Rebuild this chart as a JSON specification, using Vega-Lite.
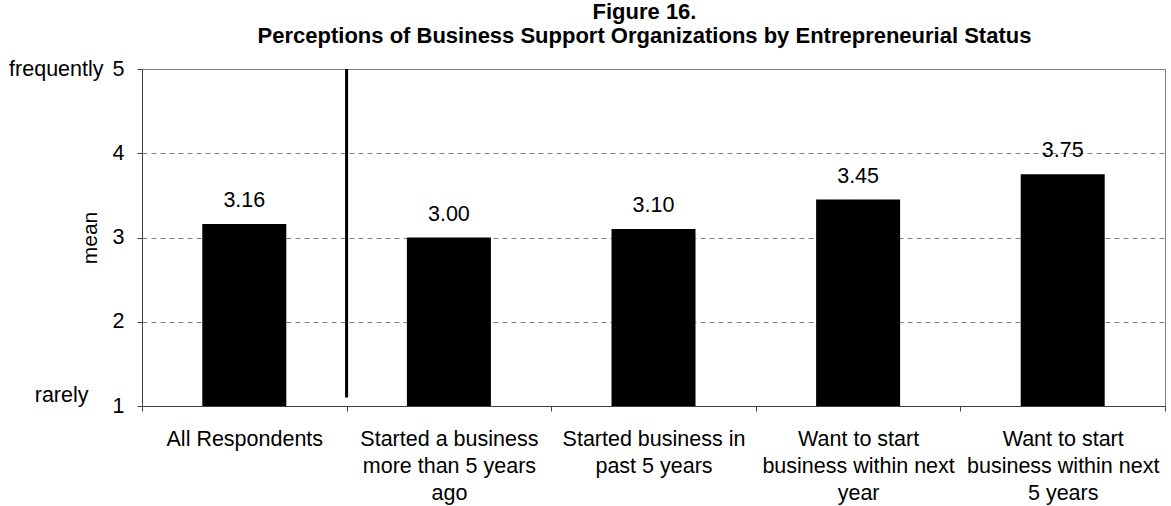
{
  "$schema": "https://vega.github.io/schema/vega-lite/v6.json",
  "autosize": {"type": "none"},
  "width": 1023,
  "height": 337,
  "padding": {"left": 142, "top": 69, "right": 6, "bottom": 100},
  "background": "white",
  "config": {
    "font": "Liberation Sans",
    "view": {"stroke": "#808080", "strokeWidth": 1},
    "axis": {"labelColor": "black", "titleColor": "black", "labelFont": "Liberation Sans", "titleFont": "Liberation Sans"}
  },
  "title": {
    "text": ["Figure 16.", "Perceptions of Business Support Organizations by Entrepreneurial Status"],
    "font": "Liberation Sans",
    "fontSize": 22,
    "fontWeight": "bold",
    "lineHeight": 24,
    "color": "black",
    "anchor": "middle",
    "frame": "group",
    "offset": 10,
    "dx": -9
  },
  "datasets": {
    "bars": [
      {"category": "All Respondents", "mean": 3.16},
      {"category": "Started a business more than 5 years ago", "mean": 3.0},
      {"category": "Started business in past 5 years", "mean": 3.1},
      {"category": "Want to start business within next year", "mean": 3.45},
      {"category": "Want to start business within next 5 years", "mean": 3.75}
    ],
    "divider": [
      {"category": "Started a business more than 5 years ago", "from": 1.1, "to": 5}
    ]
  },
  "resolve": {"scale": {"y": "shared"}, "axis": {"y": "independent"}},
  "layer": [
    {
      "data": {"name": "bars"},
      "mark": {"type": "bar", "size": 84, "color": "black"},
      "encoding": {
        "x": {
          "field": "category",
          "type": "nominal",
          "scale": {
            "type": "band",
            "domain": ["All Respondents", "Started a business more than 5 years ago", "Started business in past 5 years", "Want to start business within next year", "Want to start business within next 5 years"],
            "paddingInner": 0,
            "paddingOuter": 0
          },
          "axis": {
            "title": null,
            "labelAngle": 0,
            "tickBand": "extent",
            "tickSize": 5,
            "tickColor": "#404040",
            "domainColor": "#404040",
            "labelFontSize": 21.5,
            "labelLineHeight": 27,
            "labelPadding": 17,
            "labelLimit": 400,
            "labelExpr": "datum.value == 'Started a business more than 5 years ago' ? ['Started a business', 'more than 5 years', 'ago'] : datum.value == 'Started business in past 5 years' ? ['Started business in', 'past 5 years'] : datum.value == 'Want to start business within next year' ? ['Want to start', 'business within next', 'year'] : datum.value == 'Want to start business within next 5 years' ? ['Want to start', 'business within next', '5 years'] : datum.label"
          }
        },
        "y": {
          "field": "mean",
          "type": "quantitative",
          "scale": {"domain": [1, 5], "nice": false, "zero": false, "clamp": true},
          "axis": {
            "values": [1, 2, 3, 4, 5],
            "title": "mean",
            "titleFontSize": 21,
            "titleFontWeight": "normal",
            "titlePadding": 12,
            "labelFontSize": 21.5,
            "labelPadding": 13,
            "tickSize": 5,
            "tickColor": "#404040",
            "domainColor": "#404040",
            "grid": true,
            "gridColor": "#808080",
            "gridDash": [5, 4],
            "gridWidth": 1
          }
        },
        "y2": {"datum": 1}
      }
    },
    {
      "data": {"name": "bars"},
      "mark": {"type": "text", "dy": -17, "baseline": "alphabetic", "fontSize": 21.5, "color": "black", "font": "Liberation Sans"},
      "encoding": {
        "x": {"field": "category", "type": "nominal"},
        "y": {"field": "mean", "type": "quantitative", "axis": null},
        "text": {"field": "mean", "type": "quantitative", "format": ".2f"}
      }
    },
    {
      "data": {"name": "divider"},
      "mark": {"type": "rule", "strokeWidth": 3, "color": "black"},
      "encoding": {
        "x": {"field": "category", "type": "nominal", "bandPosition": 0},
        "y": {
          "field": "from",
          "type": "quantitative",
          "axis": {
            "orient": "left",
            "values": [1, 5],
            "title": null,
            "grid": false,
            "ticks": false,
            "domain": false,
            "labelFontSize": 21.5,
            "labelExpr": "datum.value == 5 ? 'frequently' : 'rarely'",
            "labelPadding": {"condition": {"test": "datum.value == 1", "value": 54}, "value": 39},
            "labelOffset": {"condition": {"test": "datum.value == 1", "value": -11}, "value": 0}
          }
        },
        "y2": {"field": "to"}
      }
    }
  ]
}
